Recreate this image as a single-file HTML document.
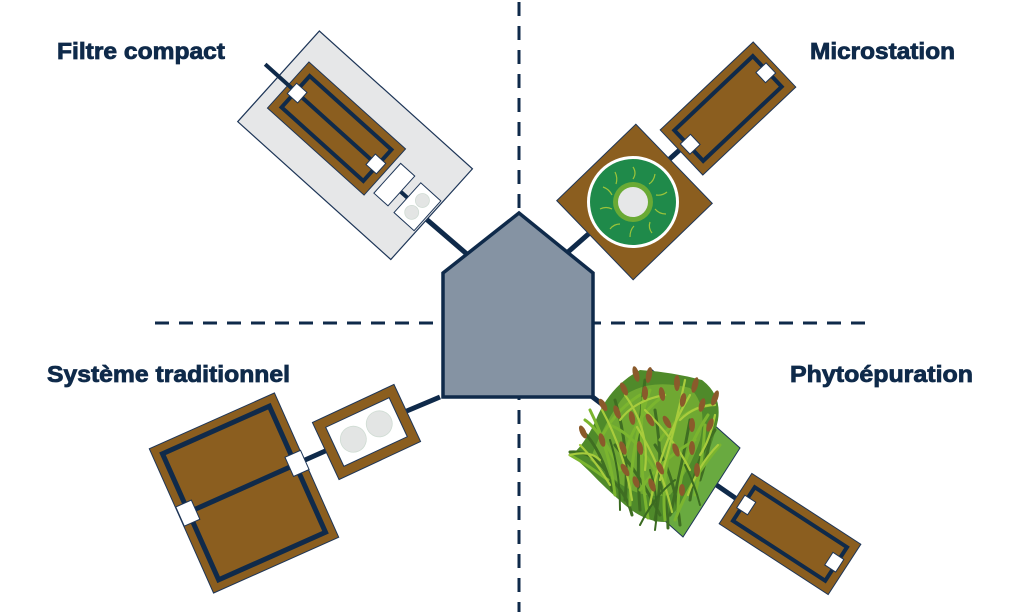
<!DOCTYPE html>
<html><head><meta charset="utf-8"><style>
html,body{margin:0;padding:0;background:#fff;width:1024px;height:612px;overflow:hidden}
svg{display:block}
text{font-family:"Liberation Sans",sans-serif;font-weight:900;fill:#0f2a4a}
</style></head><body>
<svg width="1024" height="612" viewBox="0 0 1024 612" xmlns="http://www.w3.org/2000/svg">
<g stroke="#0f2a4a" stroke-width="3" stroke-dasharray="14 10" fill="none">
<line x1="519" y1="2" x2="519" y2="612"/>
<line x1="155" y1="323" x2="872" y2="323"/>
</g>

<g stroke="#0f2a4a" stroke-width="0.8">
<text x="57" y="59" font-size="23" textLength="168" lengthAdjust="spacingAndGlyphs">Filtre compact</text>
<text x="810" y="59" font-size="23" textLength="145" lengthAdjust="spacingAndGlyphs">Microstation</text>
<text x="47" y="382" font-size="23" textLength="243" lengthAdjust="spacingAndGlyphs">Système traditionnel</text>
<text x="790" y="382" font-size="23" textLength="183" lengthAdjust="spacingAndGlyphs">Phytoépuration</text>
</g>

<g stroke="#0f2a4a" stroke-width="5" fill="none">
<line x1="425" y1="218" x2="468" y2="255"/>
<line x1="568" y1="252" x2="593" y2="230"/>
<line x1="663" y1="165" x2="684" y2="146"/>
<line x1="440" y1="397" x2="402" y2="413"/>
<line x1="332" y1="448" x2="305" y2="460"/>
<line x1="590" y1="395" x2="620" y2="418"/>
<line x1="715" y1="484" x2="744" y2="504"/>
</g>

<!-- Filtre compact -->
<g transform="translate(336.5,128.5) rotate(42)">
<rect x="-78" y="-61" width="206" height="122" fill="#e6e7e8" stroke="#1d3557" stroke-width="1.2"/>
<rect x="-65" y="-31" width="130" height="62" fill="#8b5e1f" stroke="#1d3557" stroke-width="1"/>
<rect x="-55" y="-21" width="110" height="42" fill="none" stroke="#0f2a4a" stroke-width="4"/>
<line x1="-53" y1="0" x2="53" y2="0" stroke="#0f2a4a" stroke-width="4"/>
<line x1="-96" y1="0" x2="-55" y2="0" stroke="#0f2a4a" stroke-width="4"/>
<rect x="-60" y="-7" width="14" height="14" fill="#fff" stroke="#1d3557" stroke-width="1"/>
<rect x="46" y="-7" width="14" height="14" fill="#fff" stroke="#1d3557" stroke-width="1"/>
<line x1="88" y1="4" x2="101" y2="4" stroke="#0f2a4a" stroke-width="4"/>
<rect x="71" y="-17" width="19" height="40" fill="#fff" stroke="#1d3557" stroke-width="1"/>
<rect x="99" y="-16" width="27" height="40" fill="#fff" stroke="#1d3557" stroke-width="1"/>
<circle cx="112" cy="-4" r="7" fill="#e3e5e4" stroke="#d0dcd4" stroke-width="0.8"/>
<circle cx="112" cy="12" r="7" fill="#e3e5e4" stroke="#d0dcd4" stroke-width="0.8"/>
</g>

<!-- Microstation -->
<g transform="translate(634.5,202) rotate(46)">
<rect x="-55" y="-55" width="110" height="110" fill="#8b5e1f" stroke="#1d3557" stroke-width="1"/>
</g>
<circle cx="633" cy="202" r="46" fill="#fff"/>
<circle cx="633" cy="202" r="43" fill="#1f8a4a"/>
<g stroke="#9cc43a" stroke-width="1.2" fill="none">
<path d="M633 167 q4 6 0 12"/><path d="M655 174 q-1 7 -6 10"/><path d="M667 192 q-5 4 -11 3"/><path d="M666 214 q-7 0 -11 -5"/>
<path d="M652 233 q-4 -5 -2 -11"/><path d="M630 237 q0 -7 4 -11"/><path d="M610 229 q4 -5 10 -5"/><path d="M600 209 q6 -3 12 0"/>
<path d="M603 187 q6 2 9 8"/><path d="M615 172 q3 6 1 12"/>
</g>
<circle cx="633" cy="202" r="20" fill="#6aaa35"/>
<circle cx="633" cy="202" r="15" fill="#e6e7e8"/>
<g transform="translate(728,108.5) rotate(-43.4)">
<rect x="-64" y="-31" width="128" height="62" fill="#8b5e1f" stroke="#1d3557" stroke-width="1"/>
<rect x="-54" y="-21" width="108" height="42" fill="none" stroke="#0f2a4a" stroke-width="4"/>
<rect x="-59" y="-7" width="14" height="14" fill="#fff" stroke="#1d3557" stroke-width="1"/>
<rect x="45" y="-7" width="14" height="14" fill="#fff" stroke="#1d3557" stroke-width="1"/>
</g>

<!-- Système traditionnel -->
<g transform="translate(244,493) rotate(-24)">
<rect x="-68.5" y="-79" width="137" height="158" fill="#8b5e1f" stroke="#1d3557" stroke-width="1"/>
<rect x="-58.5" y="-69" width="117" height="138" fill="none" stroke="#0f2a4a" stroke-width="5"/>
<line x1="-58" y1="-5" x2="58" y2="-5" stroke="#0f2a4a" stroke-width="5"/>
<rect x="-68" y="-15" width="17" height="21" fill="#fff" stroke="#1d3557" stroke-width="1"/>
<rect x="52" y="-16" width="17" height="21" fill="#fff" stroke="#1d3557" stroke-width="1"/>
</g>
<g transform="translate(366.5,432) rotate(-25)">
<rect x="-45" y="-31.5" width="90" height="63" fill="#8b5e1f" stroke="#1d3557" stroke-width="1"/>
<rect x="-35" y="-21.5" width="70" height="43" fill="#fff" stroke="#1d3557" stroke-width="1"/>
<circle cx="-15" cy="1" r="13" fill="#e3e5e4" stroke="#cfdcd3" stroke-width="0.8"/>
<circle cx="15" cy="-2" r="13" fill="#e3e5e4" stroke="#cfdcd3" stroke-width="0.8"/>
</g>

<!-- Phyto rect -->
<g transform="translate(790,534) rotate(33)">
<rect x="-65" y="-30" width="130" height="60" fill="#8b5e1f" stroke="#1d3557" stroke-width="1"/>
<rect x="-55" y="-20" width="110" height="40" fill="none" stroke="#0f2a4a" stroke-width="4"/>
<rect x="-59" y="-8" width="13" height="15" fill="#fff" stroke="#1d3557" stroke-width="1"/>
<rect x="46" y="-8" width="13" height="15" fill="#fff" stroke="#1d3557" stroke-width="1"/>
</g>

<polygon points="650,368 740,448 683,537 592,456" fill="#69aa40" stroke="#1d3557" stroke-width="1"/>

<!-- reed mass -->
<path d="M572,455 Q588,440 598,415 Q612,385 640,370 Q672,372 702,380 Q722,395 718,420 Q712,448 700,470 Q688,500 665,522 Q645,522 625,505 Q605,488 590,472 Z" fill="#4f8a2a"/>
<path d="M590,460 Q605,420 625,395 Q650,378 690,388 Q708,405 700,440 Q690,470 670,495 Q640,500 615,480 Z" fill="#6fa832"/>
<g fill="none" stroke-linecap="round">
<g stroke="#3f6e22" stroke-width="3">
<path d="M612 490 q-10 -40 -30 -60"/><path d="M625 500 q5 -50 -10 -100"/><path d="M640 510 q-5 -60 5 -130"/>
<path d="M655 520 q10 -50 0 -110"/><path d="M670 515 q10 -40 20 -95"/><path d="M690 500 q5 -40 25 -70"/>
<path d="M605 470 q-15 -20 -35 -18"/><path d="M700 480 q10 -30 12 -60"/><path d="M680 525 q-5 -50 -25 -80"/>
<path d="M660 515 q-20 -40 -45 -70"/><path d="M632 515 q-5 -20 -20 -35"/><path d="M668 528 q0 -25 -8 -45"/>
</g>
<g stroke="#7bb52f" stroke-width="3">
<path d="M615 495 q-5 -45 -25 -85"/><path d="M630 505 q0 -60 20 -115"/><path d="M648 518 q-10 -55 -5 -120"/>
<path d="M665 520 q-5 -50 15 -110"/><path d="M678 510 q0 -50 30 -95"/><path d="M695 495 q8 -35 10 -70"/>
<path d="M608 480 q-20 -15 -38 -25"/><path d="M620 470 q-20 -40 -35 -50"/><path d="M675 520 q15 -40 45 -75"/>
<path d="M640 490 q20 -30 55 -50"/><path d="M625 455 q10 -40 40 -60"/><path d="M655 470 q-20 -35 -45 -45"/>
<path d="M600 440 q15 -30 40 -45"/><path d="M660 440 q20 -30 50 -35"/>
</g>
<g stroke="#a8cc3c" stroke-width="2.2">
<path d="M610 485 q-15 -25 -30 -40"/><path d="M632 500 q-8 -50 -30 -90"/><path d="M650 505 q10 -60 40 -110"/>
<path d="M672 512 q-10 -45 -35 -85"/><path d="M688 495 q10 -30 30 -50"/><path d="M645 470 q5 -40 -20 -75"/>
<path d="M660 480 q15 -50 25 -100"/><path d="M600 460 q-10 -10 -30 -5"/><path d="M690 470 q-15 -30 -45 -60"/>
<path d="M700 455 q10 -15 15 -40"/><path d="M620 420 q15 -20 45 -25"/><path d="M680 420 q15 -15 35 -15"/>
</g>
<g stroke="#3a6a20" stroke-width="2">
<path d="M620 510 q0 -40 -10 -70"/><path d="M655 530 q5 -30 -5 -60"/><path d="M700 505 q-5 -20 -15 -40"/><path d="M640 525 q15 -30 35 -45"/>
</g>
</g>
<g fill="#8a5a2b">
<ellipse cx="636" cy="374" rx="3" ry="8" transform="rotate(-15 636 374)"/>
<ellipse cx="649" cy="375" rx="3" ry="8" transform="rotate(10 649 375)"/>
<ellipse cx="677" cy="383" rx="3" ry="8"/>
<ellipse cx="695" cy="385" rx="3" ry="8" transform="rotate(15 695 385)"/>
<ellipse cx="715" cy="398" rx="3" ry="8" transform="rotate(20 715 398)"/>
<ellipse cx="624" cy="389" rx="3" ry="7" transform="rotate(-25 624 389)"/>
<ellipse cx="645" cy="393" rx="3" ry="7"/>
<ellipse cx="662" cy="394" rx="3" ry="7" transform="rotate(-10 662 394)"/>
<ellipse cx="683" cy="400" rx="3" ry="7" transform="rotate(10 683 400)"/>
<ellipse cx="702" cy="405" rx="3" ry="7" transform="rotate(15 702 405)"/>
<ellipse cx="603" cy="405" rx="3" ry="7" transform="rotate(-30 603 405)"/>
<ellipse cx="617" cy="412" rx="3" ry="7" transform="rotate(-20 617 412)"/>
<ellipse cx="632" cy="418" rx="3" ry="7" transform="rotate(-10 632 418)"/>
<ellipse cx="650" cy="420" rx="3" ry="7" transform="rotate(-30 650 420)"/>
<ellipse cx="667" cy="422" rx="3" ry="7" transform="rotate(-30 667 422)"/>
<ellipse cx="692" cy="425" rx="3" ry="7"/>
<ellipse cx="710" cy="425" rx="3" ry="7" transform="rotate(20 710 425)"/>
<ellipse cx="583" cy="432" rx="3" ry="7" transform="rotate(-25 583 432)"/>
<ellipse cx="602" cy="440" rx="3" ry="7" transform="rotate(-15 602 440)"/>
<ellipse cx="623" cy="448" rx="3" ry="7" transform="rotate(-20 623 448)"/>
<ellipse cx="640" cy="448" rx="3" ry="7" transform="rotate(-10 640 448)"/>
<ellipse cx="676" cy="450" rx="3" ry="7" transform="rotate(-20 676 450)"/>
<ellipse cx="692" cy="448" rx="3" ry="7"/>
<ellipse cx="625" cy="470" rx="3" ry="7" transform="rotate(-30 625 470)"/>
<ellipse cx="660" cy="468" rx="3" ry="7" transform="rotate(-25 660 468)"/>
<ellipse cx="697" cy="470" rx="3" ry="7"/>
<ellipse cx="652" cy="485" rx="3" ry="7" transform="rotate(-20 652 485)"/>
<ellipse cx="682" cy="490" rx="3" ry="6"/>
<ellipse cx="636" cy="482" rx="3" ry="6" transform="rotate(-20 636 482)"/>
</g>

<polygon points="443,273 519,213 593,273 593,397 443,397" fill="#8593a3" stroke="#0f2a4a" stroke-width="3.5" stroke-linejoin="miter"/>
</svg>
</body></html>
